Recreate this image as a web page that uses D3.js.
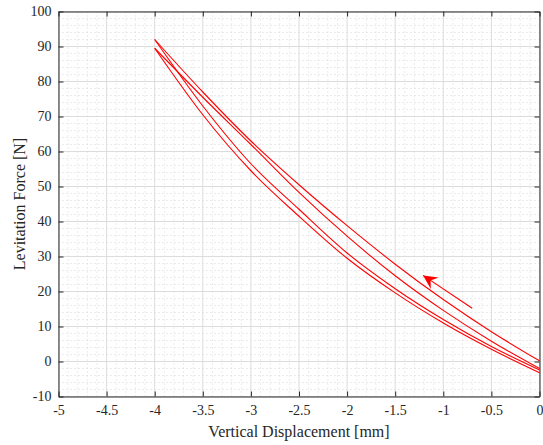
<!DOCTYPE html>
<html><head><meta charset="utf-8">
<script src="https://cdn.jsdelivr.net/npm/d3@7"></script>
<style>body{margin:0;background:#fff} svg{display:block} text{font-family:'Liberation Serif','Times New Roman',serif}</style>
</head><body><svg id="c" width="543" height="445"></svg>
<script>
// ---- data ----
const xTicks = [-5, -4.5, -4, -3.5, -3, -2.5, -2, -1.5, -1, -0.5, 0];
const yTicks = [-10, 0, 10, 20, 30, 40, 50, 60, 70, 80, 90, 100];
const dispX = [-4, -3.5, -3, -2.5, -2, -1.5, -1, -0.5, 0];
const approach1 = [92, 77, 63, 50.5, 38.8, 27.8, 17.7, 8.5, 0.2];
const retreat1 = [92, 73, 56.5, 43.5, 31, 20.8, 12, 4.3, -2.4];
const approach2 = [89.5, 75.5, 62, 48.3, 35.8, 24.5, 14.6, 5.8, -2.0];
const retreat2 = [89.5, 70.5, 54.5, 41.5, 29.5, 19.6, 11, 3.5, -3.2];
const arrowX = [-0.7, -1.21];
const arrowY = [15.2, 24.6];
const xLabel = "Vertical Displacement [mm]";
const yLabel = "Levitation Force [N]";

// ---- layout ----
const svg = d3.select("#c");
const L = 58.5, R = 539.5, T = 11.5, B = 396.5;
const x = d3.scaleLinear().domain([-5, 0]).range([L, R]);
const y = d3.scaleLinear().domain([-10, 100]).range([B, T]);
const font = "'Liberation Serif','Times New Roman',serif";
const axisColor = "#262626";

// minor grid
const xMinor = d3.range(-50, 1).map(v => v / 10).filter(v => Math.abs(v * 2 - Math.round(v * 2)) > 1e-6);
const yMinor = d3.range(-10, 101, 2).filter(v => v % 10 !== 0);
const g = svg.append("g");
g.selectAll(".xm").data(xMinor).join("line")
  .attr("x1", d => x(d)).attr("x2", d => x(d)).attr("y1", T).attr("y2", B)
  .attr("stroke", "#d6d6d6").attr("stroke-width", 1).attr("stroke-dasharray", "1,3");
g.selectAll(".ym").data(yMinor).join("line")
  .attr("y1", d => y(d)).attr("y2", d => y(d)).attr("x1", L).attr("x2", R)
  .attr("stroke", "#d6d6d6").attr("stroke-width", 1).attr("stroke-dasharray", "1,3");
// major grid
g.selectAll(".xg").data(xTicks).join("line")
  .attr("x1", d => x(d)).attr("x2", d => x(d)).attr("y1", T).attr("y2", B)
  .attr("stroke", "#dcdcdc").attr("stroke-width", 1);
g.selectAll(".yg").data(yTicks).join("line")
  .attr("y1", d => y(d)).attr("y2", d => y(d)).attr("x1", L).attr("x2", R)
  .attr("stroke", "#dcdcdc").attr("stroke-width", 1);

// curves
const series = [approach1, retreat1, approach2, retreat2];
const line = d3.line().x(d => x(d[0])).y(d => y(d[1])).curve(d3.curveMonotoneX);
series.forEach(s => {
  const pts = dispX.map((v, i) => [v, s[i]]).sort((a, b) => a[0] - b[0]);
  svg.append("path").attr("d", line(pts)).attr("fill", "none")
    .attr("stroke", "#ff0000").attr("stroke-width", 1.1);
});

// arrow
const ax0 = x(arrowX[0]), ay0 = y(arrowY[0]), ax1 = x(arrowX[1]), ay1 = y(arrowY[1]);
svg.append("line").attr("x1", ax0).attr("y1", ay0).attr("x2", ax1).attr("y2", ay1)
  .attr("stroke", "#ff0000").attr("stroke-width", 1.1);
const ang = Math.atan2(ay1 - ay0, ax1 - ax0) * 180 / Math.PI;
svg.append("path").attr("d", "M0,0 L-14,-7 L-9,0 L-14,7 Z")
  .attr("fill", "#ff0000")
  .attr("transform", `translate(${ax1},${ay1}) rotate(${ang})`);

// axes
const fmt = d => String(d);
const xAxis = svg.append("g").attr("transform", `translate(0,${B})`)
  .call(d3.axisBottom(x).tickValues(xTicks).tickFormat(fmt).tickSizeInner(-5).tickSizeOuter(0).tickPadding(9));
const xTop = svg.append("g").attr("transform", `translate(0,${T})`)
  .call(d3.axisTop(x).tickValues(xTicks).tickFormat("").tickSizeInner(-5).tickSizeOuter(0));
const yAxis = svg.append("g").attr("transform", `translate(${L},0)`)
  .call(d3.axisLeft(y).tickValues(yTicks).tickFormat(fmt).tickSizeInner(-5).tickSizeOuter(0).tickPadding(7));
const yRight = svg.append("g").attr("transform", `translate(${R},0)`)
  .call(d3.axisRight(y).tickValues(yTicks).tickFormat("").tickSizeInner(-5).tickSizeOuter(0));
[xAxis, xTop, yAxis, yRight].forEach(a => {
  a.attr("font-family", font).attr("font-size", 14);
  a.selectAll("path,line").attr("stroke", axisColor);
  a.selectAll("text").attr("fill", axisColor).attr("font-family", font).attr("font-size", 14);
});

svg.append("text").attr("x", (L + R) / 2).attr("y", 437).attr("text-anchor", "middle")
  .attr("font-family", font).attr("font-size", 16).attr("fill", axisColor).text(xLabel);
svg.append("text").attr("transform", `translate(25,${(T + B) / 2}) rotate(-90)`).attr("text-anchor", "middle")
  .attr("font-family", font).attr("font-size", 16).attr("fill", axisColor).text(yLabel);
</script></body></html>
